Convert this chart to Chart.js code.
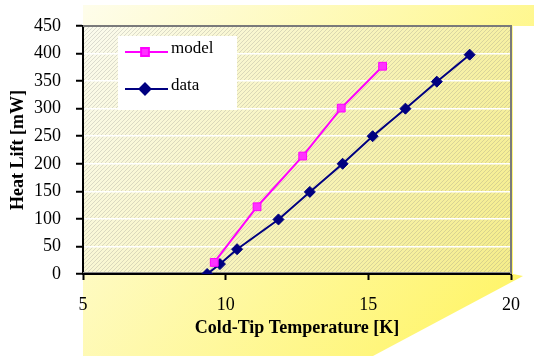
<!DOCTYPE html>
<html lang="en">
<head>
    <meta charset="UTF-8">
    <title>Heat Lift vs Cold-Tip Temperature</title>
    <script src="https://cdn.jsdelivr.net/npm/chart.js"></script>
    <style>
        html, body { margin: 0; padding: 0; background: #ffffff; }
        #wrap { width: 534px; height: 356px; }
    </style>
</head>
<body>
    <div id="wrap">
        <canvas id="heatChart" width="534" height="356"></canvas>
    </div>

    <script>
        // values
        var modelTemp = [9.6, 11.1, 12.7, 14.05, 15.5];
        var modelLift = [21, 122, 214, 301, 377];
        var dataTemp = [9.35, 9.8, 10.4, 11.85, 12.95, 14.1, 15.15, 16.3, 17.4, 18.55];
        var dataLift = [0, 18, 45, 99, 149, 200, 250, 300, 349, 398];
        var xTicks = [5, 10, 15, 20];
        var yTicks = [0, 50, 100, 150, 200, 250, 300, 350, 400, 450];

        function toPoints(xs, ys) {
            return xs.map(function (x, i) { return { x: x, y: ys[i] }; });
        }

        var serif = "'Liberation Serif', 'Times New Roman', serif";

        // diagonal hatch used on the plot area
        function makeHatch(ctx) {
            var c = document.createElement('canvas');
            c.width = 4; c.height = 4;
            var p = c.getContext('2d');
            p.strokeStyle = 'rgba(130,130,130,0.38)';
            p.lineWidth = 0.7;
            p.beginPath();
            p.moveTo(0, 4); p.lineTo(4, 0);
            p.moveTo(-1, 1); p.lineTo(1, -1);
            p.moveTo(3, 5); p.lineTo(5, 3);
            p.stroke();
            return ctx.createPattern(c, 'repeat');
        }

        var backdrop = {
            id: 'backdrop',
            beforeDraw: function (chart) {
                var ctx = chart.ctx, a = chart.chartArea;
                var W = chart.width, H = chart.height;
                ctx.save();
                // yellow shape behind the chart
                var g = ctx.createLinearGradient(a.left, 5, W, H);
                g.addColorStop(0, '#fefdeb');
                g.addColorStop(1, '#fff45c');
                ctx.fillStyle = g;
                ctx.beginPath();
                ctx.moveTo(a.left, 5);
                ctx.lineTo(W, 5);
                ctx.lineTo(W, a.top);
                ctx.lineTo(a.right + 2, a.top);
                ctx.lineTo(a.right + 2, a.bottom);
                ctx.lineTo(a.right + 12, a.bottom + 2);
                ctx.lineTo(a.left + 290, H);
                ctx.lineTo(a.left, H);
                ctx.closePath();
                ctx.fill();

                // plot area gradient and hatch
                var g2 = ctx.createLinearGradient(a.left, a.top, a.right, a.bottom);
                g2.addColorStop(0, '#fbfbee');
                g2.addColorStop(1, '#f5ed8a');
                ctx.fillStyle = g2;
                ctx.fillRect(a.left, a.top, a.right - a.left, a.bottom - a.top);
                ctx.fillStyle = makeHatch(ctx);
                ctx.fillRect(a.left, a.top, a.right - a.left, a.bottom - a.top);
                ctx.restore();
            },
            beforeDatasetsDraw: function (chart) {
                var ctx = chart.ctx, a = chart.chartArea;
                ctx.save();
                // gray frame on top and right
                ctx.strokeStyle = '#7a7a7a';
                ctx.lineWidth = 2;
                ctx.beginPath();
                ctx.moveTo(a.left, a.top);
                ctx.lineTo(a.right, a.top);
                ctx.lineTo(a.right, a.bottom);
                ctx.stroke();
                ctx.strokeStyle = '#8a8a8a';
                ctx.lineWidth = 1;
                ctx.beginPath();
                ctx.moveTo(a.left, a.bottom - 1.5);
                ctx.lineTo(a.right, a.bottom - 1.5);
                ctx.stroke();

                // legend box
                var bx = a.left + 35, by = a.top + 10;
                ctx.fillStyle = '#ffffff';
                ctx.fillRect(bx, by, 119, 74);
                var rows = [chart.data.datasets[0], chart.data.datasets[1]];
                rows.forEach(function (ds, i) {
                    var y = by + 16 + i * 37;
                    ctx.strokeStyle = ds.borderColor;
                    ctx.lineWidth = 2;
                    ctx.beginPath();
                    ctx.moveTo(bx + 7, y);
                    ctx.lineTo(bx + 50, y);
                    ctx.stroke();
                    ctx.fillStyle = ds.pointBackgroundColor;
                    ctx.strokeStyle = ds.pointBorderColor;
                    Chart.helpers.drawPoint(ctx, {
                        pointStyle: ds.pointStyle,
                        radius: ds.pointRadius,
                        borderWidth: 1
                    }, bx + 27, y);
                    ctx.fillStyle = '#000000';
                    ctx.font = '17px ' + serif;
                    ctx.textBaseline = 'middle';
                    ctx.fillText(ds.label, bx + 53, y - 3);
                });
                ctx.restore();
            }
        };

        var ctx = document.getElementById('heatChart').getContext('2d');
        var heatChart = new Chart(ctx, {
            type: 'line',
            data: {
                datasets: [{
                    label: 'model',
                    data: toPoints(modelTemp, modelLift),
                    borderColor: '#ff00ff',
                    backgroundColor: '#ff00ff',
                    pointBackgroundColor: '#ff33ff',
                    pointBorderColor: '#ff00ff',
                    pointStyle: 'rect',
                    pointRadius: 5.5,
                    pointBorderWidth: 1,
                    borderWidth: 2,
                    tension: 0,
                    fill: false
                }, {
                    label: 'data',
                    data: toPoints(dataTemp, dataLift),
                    borderColor: '#000080',
                    backgroundColor: '#000080',
                    pointBackgroundColor: '#000080',
                    pointBorderColor: '#000080',
                    pointStyle: 'rectRot',
                    pointRadius: 5.5,
                    pointBorderWidth: 1,
                    borderWidth: 2,
                    tension: 0,
                    fill: false
                }]
            },
            options: {
                responsive: false,
                animation: false,
                layout: { padding: { left: 8, right: 21, top: 26, bottom: 17 } },
                plugins: {
                    legend: { display: false },
                    tooltip: { enabled: false }
                },
                scales: {
                    x: {
                        type: 'linear',
                        min: 5,
                        max: 20,
                        afterBuildTicks: function (s) { s.ticks = xTicks.map(function (v) { return { value: v }; }); },
                        afterFit: function (s) { s.height = 65; },
                        ticks: {
                            color: '#000000',
                            font: { family: serif, size: 18 },
                            padding: 14
                        },
                        grid: {
                            drawOnChartArea: false,
                            drawTicks: true,
                            tickLength: 6,
                            tickColor: '#000000',
                            tickWidth: 2
                        },
                        border: { color: '#000000', width: 2 },
                        title: {
                            display: true,
                            text: 'Cold-Tip Temperature [K]',
                            color: '#000000',
                            font: { family: serif, size: 18, weight: 'bold' },
                            padding: { top: 0, bottom: 0 }
                        }
                    },
                    y: {
                        min: 0,
                        max: 450,
                        afterBuildTicks: function (s) { s.ticks = yTicks.map(function (v) { return { value: v }; }); },
                        afterFit: function (s) { s.width = 75; },
                        ticks: {
                            color: '#000000',
                            font: { family: serif, size: 18 },
                            padding: 15
                        },
                        grid: {
                            color: '#ffffff',
                            lineWidth: 1.5,
                            drawTicks: true,
                            tickLength: 7,
                            tickColor: '#000000',
                            tickWidth: 2
                        },
                        border: { color: '#000000', width: 2 },
                        title: {
                            display: true,
                            text: 'Heat Lift [mW]',
                            color: '#000000',
                            font: { family: serif, size: 18, weight: 'bold' },
                            padding: { top: 0, bottom: 0 }
                        }
                    }
                }
            },
            plugins: [backdrop]
        });
    </script>
</body>
</html>
